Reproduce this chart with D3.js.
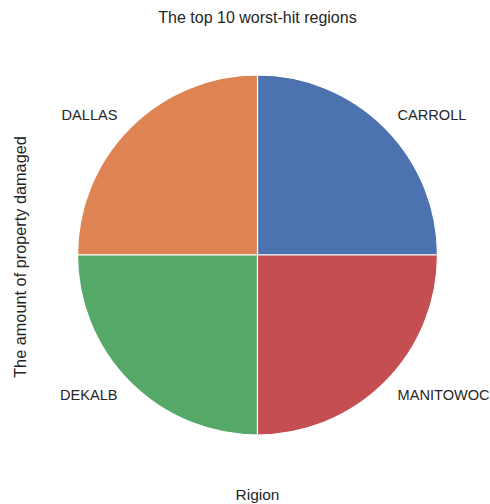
<!DOCTYPE html>
<html>
<head>
<meta charset="utf-8">
<script src="https://cdn.jsdelivr.net/npm/d3@7"></script>
<style>
  body { margin: 0; background: #fff; }
  svg { display: block; font-family: "Liberation Sans", Arial, sans-serif; }
</style>
</head>
<body>
<svg id="chart" width="490" height="504"></svg>
<script>
var regions = ["CARROLL", "DALLAS", "DEKALB", "MANITOWOC"];
var damage = [25, 25, 25, 25];
var colors = ["#4c72b0", "#dd8452", "#55a868", "#c44e52"];

var svg = d3.select("#chart");
var cx = 257.5, cy = 255, radius = 180;
var textColor = "#262626";

// matplotlib-style: start at 3 o'clock, go counterclockwise
var pie = d3.pie().sort(null).value(function (d) { return d; })
  .startAngle(Math.PI / 2).endAngle(Math.PI / 2 - 2 * Math.PI);
var arcs = pie(damage);

var arc = d3.arc().innerRadius(0).outerRadius(radius);
var labelArc = d3.arc().innerRadius(radius * 1.1).outerRadius(radius * 1.1);

var g = svg.append("g").attr("transform", "translate(" + cx + "," + cy + ")");

g.selectAll("path.slice").data(arcs).enter().append("path")
  .attr("class", "slice")
  .attr("d", arc)
  .attr("fill", function (d, i) { return colors[i]; })
  .attr("stroke", "#fff")
  .attr("stroke-width", 1.2);

g.selectAll("text.lbl").data(arcs).enter().append("text")
  .attr("class", "lbl")
  .attr("x", function (d) { return labelArc.centroid(d)[0]; })
  .attr("y", function (d) { return labelArc.centroid(d)[1]; })
  .attr("dy", "0.35em")
  .attr("text-anchor", function (d) { return labelArc.centroid(d)[0] > 0 ? "start" : "end"; })
  .attr("font-size", 14.6)
  .attr("fill", textColor)
  .text(function (d, i) { return regions[i]; });

svg.append("text")
  .attr("x", cx).attr("y", 23)
  .attr("text-anchor", "middle")
  .attr("font-size", 16)
  .attr("fill", textColor)
  .text("The top 10 worst-hit regions");

svg.append("text")
  .attr("transform", "translate(26,257) rotate(-90)")
  .attr("text-anchor", "middle")
  .attr("font-size", 16.3)
  .attr("fill", textColor)
  .text("The amount of property damaged");

svg.append("text")
  .attr("x", cx).attr("y", 500)
  .attr("text-anchor", "middle")
  .attr("font-size", 15.5)
  .attr("fill", textColor)
  .text("Rigion");
</script>
</body>
</html>
